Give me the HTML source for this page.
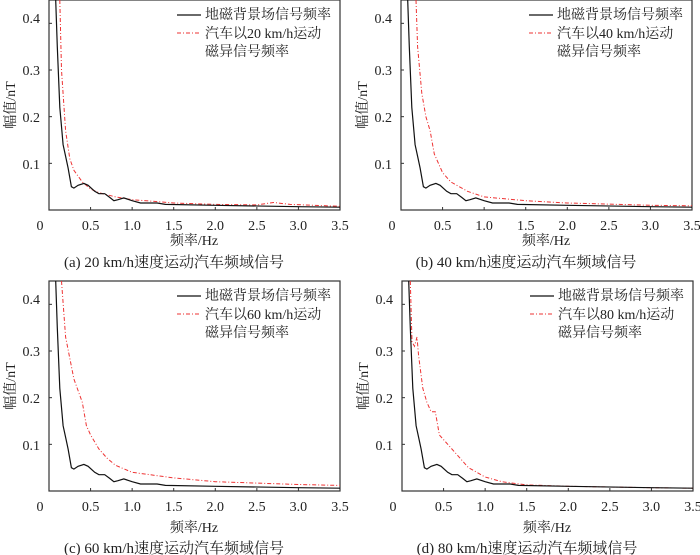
<!DOCTYPE html>
<html><head><meta charset="utf-8"><style>
html,body{margin:0;padding:0;background:#fff;}
svg{display:block;font-family:"Liberation Serif","Noto Serif CJK SC",serif;}
text{fill:#222;}
</style></head><body>
<svg id="s" width="700" height="555" viewBox="0 0 700 555" xmlns="http://www.w3.org/2000/svg">
<g id="p0" transform="translate(49,0)">
 <text x="-9" y="23" font-size="14" text-anchor="end">0.4</text>
 <text x="-9" y="75" font-size="14" text-anchor="end">0.3</text>
 <text x="-9" y="122" font-size="14" text-anchor="end">0.2</text>
 <text x="-9" y="169" font-size="14" text-anchor="end">0.1</text>
 <text transform="translate(-34,105) rotate(-90)" font-size="14" text-anchor="middle">幅值/nT</text>
 <text x="-9" y="230" font-size="14" text-anchor="middle">0</text>
 <text x="41.6" y="230" font-size="14" text-anchor="middle">0.5</text>
 <text x="83.1" y="230" font-size="14" text-anchor="middle">1.0</text>
 <text x="124.7" y="230" font-size="14" text-anchor="middle">1.5</text>
 <text x="166.3" y="230" font-size="14" text-anchor="middle">2.0</text>
 <text x="207.9" y="230" font-size="14" text-anchor="middle">2.5</text>
 <text x="249.4" y="230" font-size="14" text-anchor="middle">3.0</text>
 <text x="291" y="230" font-size="14" text-anchor="middle">3.5</text>
 <text x="145" y="245" font-size="14" text-anchor="middle">频率/Hz</text>
 <text x="125" y="267" font-size="15" text-anchor="middle">(a) 20 km/h速度运动汽车频域信号</text>
 <text x="156" y="19" font-size="14">地磁背景场信号频率</text>
 <text x="156" y="38" font-size="14">汽车以20 km/h运动</text>
 <text x="156" y="56" font-size="14">磁异信号频率</text>
</g>
<g id="p1" transform="translate(401,0)">
 <text x="-9" y="23" font-size="14" text-anchor="end">0.4</text>
 <text x="-9" y="75" font-size="14" text-anchor="end">0.3</text>
 <text x="-9" y="122" font-size="14" text-anchor="end">0.2</text>
 <text x="-9" y="169" font-size="14" text-anchor="end">0.1</text>
 <text transform="translate(-34,105) rotate(-90)" font-size="14" text-anchor="middle">幅值/nT</text>
 <text x="-9" y="230" font-size="14" text-anchor="middle">0</text>
 <text x="41.6" y="230" font-size="14" text-anchor="middle">0.5</text>
 <text x="83.1" y="230" font-size="14" text-anchor="middle">1.0</text>
 <text x="124.7" y="230" font-size="14" text-anchor="middle">1.5</text>
 <text x="166.3" y="230" font-size="14" text-anchor="middle">2.0</text>
 <text x="207.9" y="230" font-size="14" text-anchor="middle">2.5</text>
 <text x="249.4" y="230" font-size="14" text-anchor="middle">3.0</text>
 <text x="291" y="230" font-size="14" text-anchor="middle">3.5</text>
 <text x="145" y="245" font-size="14" text-anchor="middle">频率/Hz</text>
 <text x="125" y="267" font-size="15" text-anchor="middle">(b) 40 km/h速度运动汽车频域信号</text>
 <text x="156" y="19" font-size="14">地磁背景场信号频率</text>
 <text x="156" y="38" font-size="14">汽车以40 km/h运动</text>
 <text x="156" y="56" font-size="14">磁异信号频率</text>
</g>
<g id="p2" transform="translate(49,281)">
 <text x="-9" y="23" font-size="14" text-anchor="end">0.4</text>
 <text x="-9" y="75" font-size="14" text-anchor="end">0.3</text>
 <text x="-9" y="122" font-size="14" text-anchor="end">0.2</text>
 <text x="-9" y="169" font-size="14" text-anchor="end">0.1</text>
 <text transform="translate(-34,105) rotate(-90)" font-size="14" text-anchor="middle">幅值/nT</text>
 <text x="-9" y="230" font-size="14" text-anchor="middle">0</text>
 <text x="41.6" y="230" font-size="14" text-anchor="middle">0.5</text>
 <text x="83.1" y="230" font-size="14" text-anchor="middle">1.0</text>
 <text x="124.7" y="230" font-size="14" text-anchor="middle">1.5</text>
 <text x="166.3" y="230" font-size="14" text-anchor="middle">2.0</text>
 <text x="207.9" y="230" font-size="14" text-anchor="middle">2.5</text>
 <text x="249.4" y="230" font-size="14" text-anchor="middle">3.0</text>
 <text x="291" y="230" font-size="14" text-anchor="middle">3.5</text>
 <text x="145" y="251" font-size="14" text-anchor="middle">频率/Hz</text>
 <text x="125" y="272" font-size="15" text-anchor="middle">(c) 60 km/h速度运动汽车频域信号</text>
 <text x="156" y="19" font-size="14">地磁背景场信号频率</text>
 <text x="156" y="38" font-size="14">汽车以60 km/h运动</text>
 <text x="156" y="56" font-size="14">磁异信号频率</text>
</g>
<g id="p3" transform="translate(402,281)">
 <text x="-9" y="23" font-size="14" text-anchor="end">0.4</text>
 <text x="-9" y="75" font-size="14" text-anchor="end">0.3</text>
 <text x="-9" y="122" font-size="14" text-anchor="end">0.2</text>
 <text x="-9" y="169" font-size="14" text-anchor="end">0.1</text>
 <text transform="translate(-34,105) rotate(-90)" font-size="14" text-anchor="middle">幅值/nT</text>
 <text x="-9" y="230" font-size="14" text-anchor="middle">0</text>
 <text x="41.6" y="230" font-size="14" text-anchor="middle">0.5</text>
 <text x="83.1" y="230" font-size="14" text-anchor="middle">1.0</text>
 <text x="124.7" y="230" font-size="14" text-anchor="middle">1.5</text>
 <text x="166.3" y="230" font-size="14" text-anchor="middle">2.0</text>
 <text x="207.9" y="230" font-size="14" text-anchor="middle">2.5</text>
 <text x="249.4" y="230" font-size="14" text-anchor="middle">3.0</text>
 <text x="291" y="230" font-size="14" text-anchor="middle">3.5</text>
 <text x="145" y="251" font-size="14" text-anchor="middle">频率/Hz</text>
 <text x="125" y="272" font-size="15" text-anchor="middle">(d) 80 km/h速度运动汽车频域信号</text>
 <text x="156" y="19" font-size="14">地磁背景场信号频率</text>
 <text x="156" y="38" font-size="14">汽车以80 km/h运动</text>
 <text x="156" y="56" font-size="14">磁异信号频率</text>
</g>
</svg>
<script>
var W=291,H=210,NS="http://www.w3.org/2000/svg";
var black=[[0.08,0.45],[0.1,0.35],[0.13,0.22],[0.17,0.14],[0.2,0.115],[0.23,0.09],[0.27,0.05],[0.3,0.047],[0.35,0.053],[0.42,0.057],[0.47,0.053],[0.55,0.04],[0.6,0.035],[0.67,0.035],[0.73,0.027],[0.78,0.02],[0.83,0.022],[0.9,0.026],[1.0,0.02],[1.1,0.015],[1.3,0.015],[1.4,0.012],[2,0.01],[3,0.007],[3.5,0.006]];
var reds=[
[[0.13,0.45],[0.15,0.3],[0.2,0.17],[0.25,0.11],[0.3,0.085],[0.4,0.06],[0.5,0.045],[0.6,0.037],[0.8,0.028],[1.0,0.022],[1.3,0.018],[1.5,0.015],[2,0.012],[2.5,0.011],[2.7,0.016],[2.9,0.012],[3.5,0.008]],
[[0.18,0.45],[0.2,0.35],[0.25,0.25],[0.3,0.2],[0.35,0.17],[0.4,0.12],[0.5,0.08],[0.6,0.06],[0.8,0.04],[1.0,0.028],[1.5,0.02],[2,0.015],[3,0.01],[3.5,0.009]],
[[0.15,0.45],[0.2,0.33],[0.3,0.24],[0.4,0.19],[0.45,0.14],[0.5,0.12],[0.6,0.09],[0.7,0.07],[0.8,0.055],[1.0,0.04],[1.5,0.028],[2,0.02],[3,0.014],[3.5,0.012]],
[[0.1,0.45],[0.12,0.32],[0.15,0.31],[0.18,0.33],[0.2,0.29],[0.25,0.22],[0.3,0.19],[0.35,0.17],[0.4,0.17],[0.45,0.12],[0.5,0.11],[0.6,0.09],[0.7,0.07],[0.8,0.05],[0.9,0.04],[1.0,0.03],[1.2,0.02],[1.5,0.013],[2,0.01],[3,0.007],[3.5,0.006]]];
function mk(t,a,g){var e=document.createElementNS(NS,t);for(var k in a)e.setAttribute(k,a[k]);g.appendChild(e);return e;}
function d(pts){return pts.map(function(p,i){return (i?"L":"M")+(p[0]/3.5*W).toFixed(1)+","+(H-p[1]/0.45*H).toFixed(1);}).join("");}
for(var i=0;i<4;i++){
 var g=document.getElementById("p"+i);
 mk("rect",{x:0,y:0,width:W,height:H,fill:"none",stroke:"#333","stroke-width":1.2},g);
 for(var t=0;t<=7;t++){var x=t*W/7;mk("line",{x1:x,y1:H,x2:x,y2:H-3,stroke:"#333"},g);}
 for(var v=1;v<=4;v++){var y=H-v*0.1/0.45*H;mk("line",{x1:0,y1:y,x2:3,y2:y,stroke:"#333"},g);}
 mk("path",{d:d(reds[i]),fill:"none",stroke:"#e33","stroke-width":1,"stroke-dasharray":"4,2,1,2"},g);
 mk("path",{d:d(black),fill:"none",stroke:"#111","stroke-width":1.2},g);
 mk("line",{x1:128,y1:15,x2:152,y2:15,stroke:"#111","stroke-width":1.2},g);
 mk("line",{x1:128,y1:33,x2:152,y2:33,stroke:"#e33","stroke-dasharray":"4,2,1,2"},g);
}
</script>
</body></html>
